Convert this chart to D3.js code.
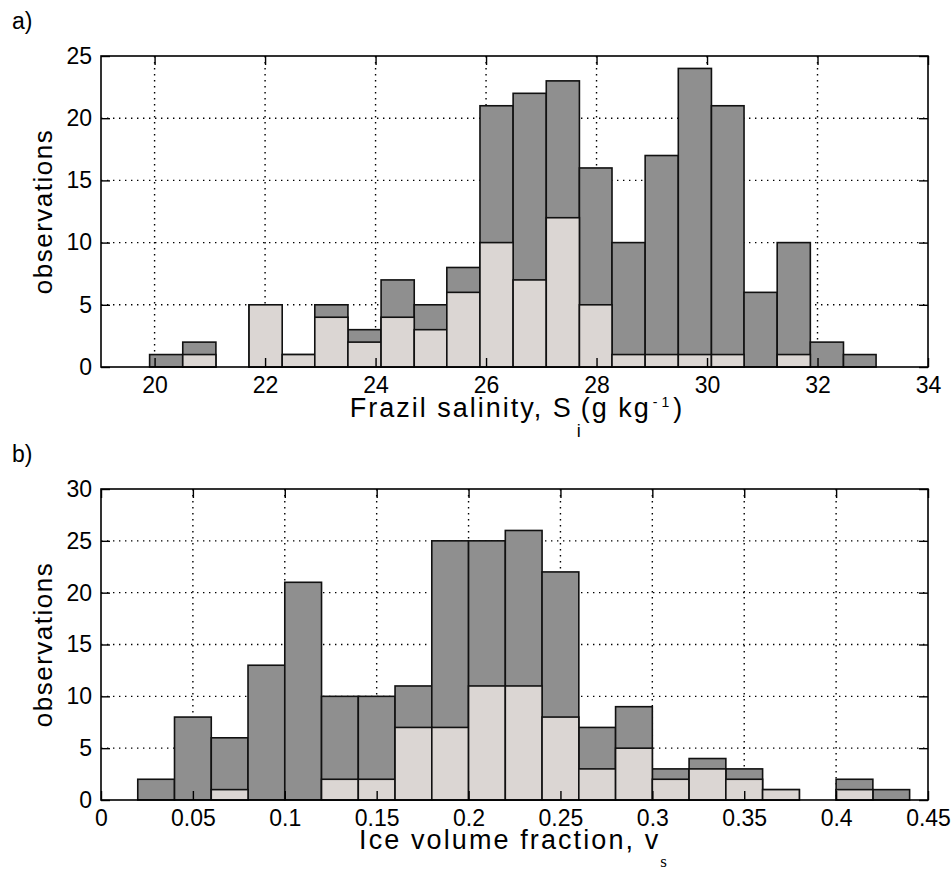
<!DOCTYPE html>
<html>
<head>
<meta charset="utf-8">
<script src="https://cdn.jsdelivr.net/npm/d3@7"></script>
<style>
  body { margin: 0; background: #fff; }
  text { font-family: "Liberation Sans", Arial, sans-serif; fill: #000; }
</style>
</head>
<body>
<div class="canvas"></div>
<script>
const [width, height] = [952, 870];

// a) frazil salinity histogram
const salEdges = [19.91, 20.51, 21.11, 21.71, 22.31, 22.90, 23.50, 24.10, 24.70, 25.29, 25.89,
                  26.49, 27.09, 27.69, 28.28, 28.88, 29.48, 30.08, 30.67, 31.27, 31.87, 32.47, 33.06];
const salTotal = [1, 2, 0, 5, 1, 5, 3, 7, 5, 8, 21, 22, 23, 16, 10, 17, 24, 21, 6, 10, 2, 1];
const salLight = [0, 1, 0, 5, 1, 4, 2, 4, 3, 6, 10, 7, 12, 5, 1, 1, 1, 1, 0, 1, 0, 0];
const salXTicks = [20, 22, 24, 26, 28, 30, 32, 34];
const salYTicks = [0, 5, 10, 15, 20, 25];

// b) ice volume fraction histogram
const vfEdges = [0.02, 0.04, 0.06, 0.08, 0.10, 0.12, 0.14, 0.16, 0.18, 0.20, 0.22,
                 0.24, 0.26, 0.28, 0.30, 0.32, 0.34, 0.36, 0.38, 0.40, 0.42, 0.44];
const vfTotal = [2, 8, 6, 13, 21, 10, 10, 11, 25, 25, 26, 22, 7, 9, 3, 4, 3, 1, 0, 2, 1];
const vfLight = [0, 0, 1, 0, 0, 2, 2, 7, 7, 11, 11, 8, 3, 5, 2, 3, 2, 1, 0, 1, 0];
const vfXTicks = [0, 0.05, 0.1, 0.15, 0.2, 0.25, 0.3, 0.35, 0.4, 0.45];
const vfYTicks = [0, 5, 10, 15, 20, 25, 30];

const darkFill = '#8f8f8f';
const lightFill = '#dbd6d3';

const svg = d3.select('.canvas')
              .append('svg')
              .attr('width', width)
              .attr('height', height);

function drawPanel(p) {
    const x = d3.scaleLinear().domain(p.xDomain).range([p.left, p.right]);
    const y = d3.scaleLinear().domain(p.yDomain).range([p.bottom, p.top]);
    const g = svg.append('g');

    // dotted grid, behind the bars
    g.selectAll('line.vgrid')
        .data(p.xTicks.filter(d => d > p.xDomain[0] && d < p.xDomain[1]))
        .enter().append('line')
        .attr('x1', d => x(d)).attr('x2', d => x(d))
        .attr('y1', p.top).attr('y2', p.bottom)
        .attr('stroke', '#000').attr('stroke-width', 1.4)
        .attr('stroke-dasharray', '1.4,4.6');
    g.selectAll('line.hgrid')
        .data(p.yTicks.filter(d => d > p.yDomain[0] && d < p.yDomain[1]))
        .enter().append('line')
        .attr('y1', d => y(d)).attr('y2', d => y(d))
        .attr('x1', p.left).attr('x2', p.right)
        .attr('stroke', '#000').attr('stroke-width', 1.4)
        .attr('stroke-dasharray', '1.4,4.6');

    const bins = p.total.map((t, i) => ({
        x0: p.edges[i], x1: p.edges[i + 1], total: t, light: p.light[i]
    }));

    g.selectAll('rect.dark')
        .data(bins.filter(d => d.total > 0))
        .enter().append('rect')
        .attr('x', d => x(d.x0))
        .attr('width', d => x(d.x1) - x(d.x0))
        .attr('y', d => y(d.total))
        .attr('height', d => y(0) - y(d.total))
        .attr('fill', darkFill)
        .attr('stroke', '#111').attr('stroke-width', 1.6);

    g.selectAll('rect.light')
        .data(bins.filter(d => d.light > 0))
        .enter().append('rect')
        .attr('x', d => x(d.x0))
        .attr('width', d => x(d.x1) - x(d.x0))
        .attr('y', d => y(d.light))
        .attr('height', d => y(0) - y(d.light))
        .attr('fill', lightFill)
        .attr('stroke', '#111').attr('stroke-width', 1.6);

    // inward ticks on all four sides
    const tickLen = 9;
    const fmt = d => String(d);

    const left = g.append('g')
        .attr('transform', `translate(${p.left},0)`)
        .call(d3.axisLeft(y).tickValues(p.yTicks).tickFormat(fmt)
              .tickSizeInner(-tickLen).tickSizeOuter(0).tickPadding(9));
    const bottom = g.append('g')
        .attr('transform', `translate(0,${p.bottom})`)
        .call(d3.axisBottom(x).tickValues(p.xTicks.filter(d => d >= p.xDomain[0])).tickFormat(fmt)
              .tickSizeInner(-tickLen).tickSizeOuter(0).tickPadding(10));
    const right = g.append('g')
        .attr('transform', `translate(${p.right},0)`)
        .call(d3.axisRight(y).tickValues(p.yTicks).tickFormat('')
              .tickSizeInner(-tickLen).tickSizeOuter(0));
    const top = g.append('g')
        .attr('transform', `translate(0,${p.top})`)
        .call(d3.axisTop(x).tickValues(p.xTicks.filter(d => d >= p.xDomain[0])).tickFormat('')
              .tickSizeInner(-tickLen).tickSizeOuter(0));

    [left, bottom, right, top].forEach(a => {
        a.select('.domain').remove();
        a.selectAll('line').attr('stroke', '#000').attr('stroke-width', 1.4);
        a.selectAll('text')
            .style('font-family', '"Liberation Sans", Arial, sans-serif')
            .style('font-size', '23px')
            .attr('fill', '#000');
    });

    g.append('rect')
        .attr('x', p.left).attr('y', p.top)
        .attr('width', p.right - p.left).attr('height', p.bottom - p.top)
        .attr('fill', 'none').attr('stroke', '#000').attr('stroke-width', 1.6);

    // y label
    g.append('text')
        .attr('transform', `translate(52,${(p.top + p.bottom) / 2}) rotate(-90)`)
        .attr('text-anchor', 'middle')
        .style('font-size', '26px')
        .style('letter-spacing', '1.5px')
        .text('observations');

    // panel letter
    g.append('text')
        .attr('x', 12).attr('y', p.letterY)
        .style('font-size', '23px')
        .text(p.letter);

    return g;
}

const pa = drawPanel({
    left: 101, right: 928, top: 56, bottom: 367,
    xDomain: [19.03, 34], yDomain: [0, 25],
    xTicks: salXTicks, yTicks: salYTicks,
    edges: salEdges, total: salTotal, light: salLight,
    letter: 'a)', letterY: 29
});

const pb = drawPanel({
    left: 101, right: 928, top: 489, bottom: 800,
    xDomain: [0, 0.45], yDomain: [0, 30],
    xTicks: vfXTicks, yTicks: vfYTicks,
    edges: vfEdges, total: vfTotal, light: vfLight,
    letter: 'b)', letterY: 462
});

// x labels with sub/superscripts
const la = pa.append('text')
    .attr('x', 517).attr('y', 417)
    .attr('text-anchor', 'middle')
    .style('font-size', '27px')
    .style('letter-spacing', '2px');
la.append('tspan').text('Frazil salinity, S');
la.append('tspan').attr('dy', 20).attr('dx', 4).style('font-size', '18px')
    .style('font-weight', '300').text('i');
la.append('tspan').attr('dy', -20).attr('dx', -2).text('(g kg');
la.append('tspan').attr('dy', -10).attr('dx', 2).style('font-size', '14px')
    .style('letter-spacing', '4px').text('-1');
la.append('tspan').attr('dy', 10).text(')');

const lb = pb.append('text')
    .attr('x', 513).attr('y', 849)
    .attr('text-anchor', 'middle')
    .style('font-size', '27px')
    .style('letter-spacing', '2.1px');
lb.append('tspan').text('Ice volume fraction, v');
lb.append('tspan').attr('dy', 18)
    .style('font-family', '"Liberation Serif", serif')
    .style('font-size', '17px')
    .style('letter-spacing', '0px')
    .text('s');
</script>
</body>
</html>
